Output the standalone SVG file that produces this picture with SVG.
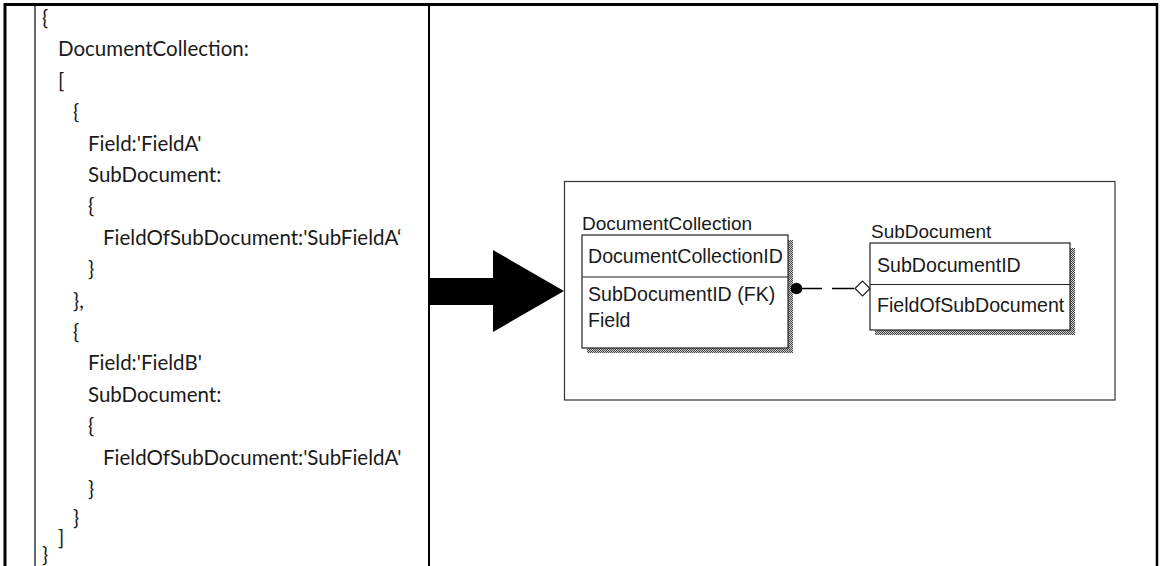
<svg xmlns="http://www.w3.org/2000/svg" width="1160" height="566" viewBox="0 0 1160 566">
  <defs>
    <pattern id="dither" width="2" height="2" patternUnits="userSpaceOnUse">
      <rect width="2" height="2" fill="#c8c8c8"/>
      <rect width="1" height="1" fill="#4a4a4a"/>
      <rect x="1" y="1" width="1" height="1" fill="#4a4a4a"/>
    </pattern>
  </defs>
  <style>
    .code { font-family: Lato, "Open Sans", sans-serif; font-size: 20.5px; fill: #1a1a1a; }
    .er { font-family: "Liberation Sans", Arial, sans-serif; font-size: 19px; fill: #1a1a1a; }
    .row { font-size: 19.6px; }
    .frame { stroke: #000; fill: none; }
    .entity { fill: #fff; stroke: #222; stroke-width: 1.2; }
    .shadow { fill: url(#dither); }
  </style>
  <rect width="1160" height="566" fill="#fff"/>

  <!-- table frame -->
  <g id="table">
    <line class="frame" x1="4" y1="4.5" x2="1158" y2="4.5" stroke-width="3"/>
    <line class="frame" x1="5" y1="3" x2="5" y2="566" stroke-width="3"/>
    <line class="frame" x1="1157" y1="3" x2="1157" y2="566" stroke-width="2.5"/>
    <line class="frame" x1="35" y1="5" x2="35" y2="566" stroke-width="1.2"/>
    <line class="frame" x1="429" y1="5" x2="429" y2="566" stroke-width="2"/>
  </g>

  <!-- JSON listing -->
  <g id="json-listing" class="code">
    <text x="42" y="25">{</text>
    <text x="58" y="56.4">DocumentCollection:</text>
    <text x="58" y="87.8">[</text>
    <text x="73" y="119.2">{</text>
    <text x="88" y="150.6">Field:'FieldA'</text>
    <text x="88" y="182">SubDocument:</text>
    <text x="88" y="213.4">{</text>
    <text x="103" y="244.8">FieldOfSubDocument:'SubFieldA‘</text>
    <text x="88" y="276.2">}</text>
    <text x="73" y="307.6">},</text>
    <text x="73" y="339">{</text>
    <text x="88" y="370.4">Field:'FieldB'</text>
    <text x="88" y="401.8">SubDocument:</text>
    <text x="88" y="433.2">{</text>
    <text x="103" y="464.6">FieldOfSubDocument:'SubFieldA'</text>
    <text x="88" y="496">}</text>
    <text x="73" y="525">}</text>
    <text x="58" y="545">]</text>
    <text x="42" y="562">}</text>
  </g>

  <!-- big conversion arrow -->
  <g id="transform-arrow">
    <polygon points="430,278 493,278 493,250 564,291 493,332 493,305 430,305" fill="#000"/>
  </g>

  <!-- ER diagram panel -->
  <g id="er-panel">
    <rect x="564.5" y="181.5" width="550.5" height="218.5" fill="#fff" stroke="#333" stroke-width="1.2"/>
  </g>

  <g id="entity-documentcollection">
    <text class="er" x="582" y="230">DocumentCollection</text>
    <rect class="shadow" x="587" y="240" width="206" height="113"/>
    <rect class="entity" x="582" y="235" width="206" height="113"/>
    <line x1="582" y1="277" x2="788" y2="277" stroke="#222" stroke-width="1.2"/>
    <text class="er row" x="588" y="263">DocumentCollectionID</text>
    <text class="er row" x="588" y="301">SubDocumentID (FK)</text>
    <text class="er row" x="588" y="327">Field</text>
  </g>

  <g id="entity-subdocument">
    <text class="er" x="871" y="238">SubDocument</text>
    <rect class="shadow" x="875" y="248" width="200" height="87"/>
    <rect class="entity" x="870" y="243" width="200" height="87"/>
    <line x1="870" y1="284.5" x2="1070" y2="284.5" stroke="#222" stroke-width="1.2"/>
    <text class="er row" x="877" y="272">SubDocumentID</text>
    <text class="er row" x="877" y="312">FieldOfSubDocument</text>
  </g>

  <!-- relationship -->
  <g id="connectors">
    <circle cx="796.5" cy="288.5" r="5.8" fill="#000"/>
    <line x1="800" y1="288.5" x2="856" y2="288.5" stroke="#000" stroke-width="1.6" stroke-dasharray="22 10"/>
    <polygon points="855,288.5 862.5,281 870,288.5 862.5,296" fill="#fff" stroke="#222" stroke-width="1.2"/>
  </g>
</svg>
